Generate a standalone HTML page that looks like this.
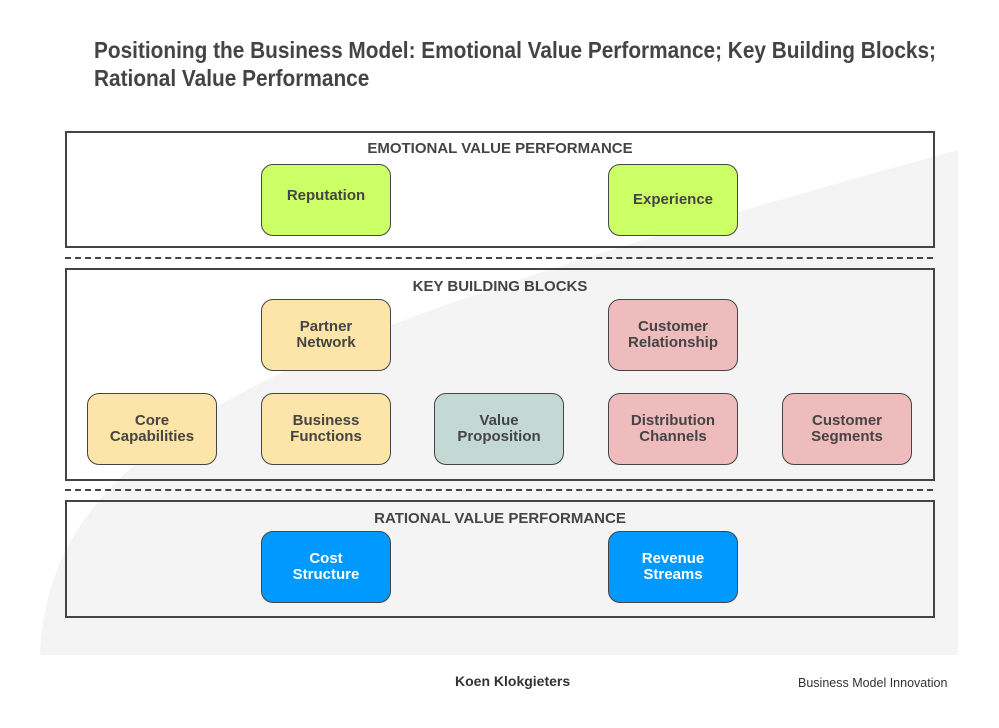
<!DOCTYPE html>
<html><head><meta charset="utf-8"><style>
body{margin:0;width:999px;height:728px;background:#fff;position:relative;overflow:hidden;font-family:"Liberation Sans",sans-serif}
.t{position:absolute;left:94px;top:36px;font-size:23px;font-weight:bold;color:#444;line-height:28px;transform:scaleX(0.905);transform-origin:left top;white-space:nowrap}
.box{position:absolute;left:65px;width:866px;border:2px solid #444;}
.h{position:absolute;left:0;width:100%;text-align:center;font-size:15px;font-weight:bold;color:#444}
.dash{position:absolute;left:65px;width:868px;border-top:2px dashed #444}
.n{position:absolute;width:128px;height:70px;border:1px solid #444;border-radius:12px;display:flex;align-items:center;justify-content:center;text-align:center;font-size:15px;font-weight:bold;color:#444;line-height:16px}
.g{background:#ccff66}.y{background:#fde4a8}.p{background:#efbcbe}.v{background:#c5d9d4}.b{background:#0099ff;color:#fff}
</style></head><body>
<svg style="position:absolute;left:0;top:0" width="999" height="728"><path d="M40,655 C48,430 300,330 958,150 L958,655 Z" fill="#f4f4f4"/></svg>
<div class="t">Positioning the Business Model: Emotional Value Performance; Key Building Blocks;<br>Rational Value Performance</div>
<div class="box" style="top:131px;height:113px"><div class="h" style="top:7px">EMOTIONAL VALUE PERFORMANCE</div></div>
<div class="dash" style="top:257px"></div>
<div class="box" style="top:268px;height:209px"><div class="h" style="top:8px">KEY BUILDING BLOCKS</div></div>
<div class="dash" style="top:489px"></div>
<div class="box" style="top:500px;height:114px"><div class="h" style="top:8px">RATIONAL VALUE PERFORMANCE</div></div>
<div class="n g" style="left:261px;top:164px"><span style="margin-top:-8px">Reputation</span></div>
<div class="n g" style="left:608px;top:164px">Experience</div>
<div class="n y" style="left:261px;top:299px">Partner<br>Network</div>
<div class="n p" style="left:608px;top:299px">Customer<br>Relationship</div>
<div class="n y" style="left:87px;top:393px">Core<br>Capabilities</div>
<div class="n y" style="left:261px;top:393px">Business<br>Functions</div>
<div class="n v" style="left:434px;top:393px">Value<br>Proposition</div>
<div class="n p" style="left:608px;top:393px">Distribution<br>Channels</div>
<div class="n p" style="left:782px;top:393px">Customer<br>Segments</div>
<div class="n b" style="left:261px;top:531px">Cost<br>Structure</div>
<div class="n b" style="left:608px;top:531px">Revenue<br>Streams</div>
<div style="position:absolute;left:455px;top:673px;font-size:14px;font-weight:bold;color:#333">Koen Klokgieters</div>
<div style="position:absolute;left:798px;top:676px;font-size:12.5px;color:#333">Business Model Innovation</div>
</body></html>
